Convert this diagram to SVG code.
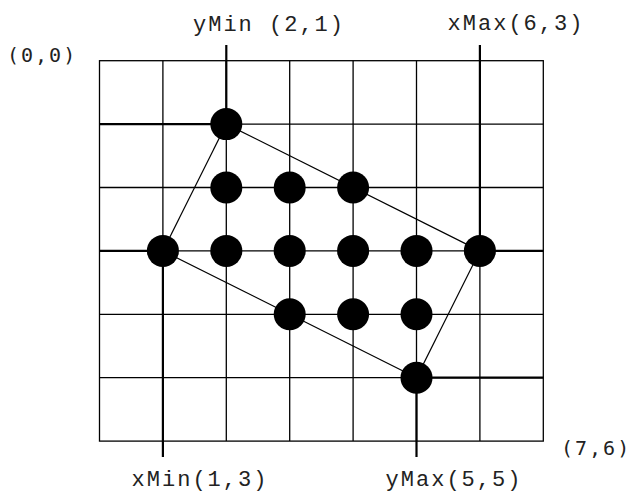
<svg xmlns="http://www.w3.org/2000/svg" width="632" height="494" viewBox="0 0 632 494">
  <style>
    .grid { stroke: #000; stroke-width: 1.3; fill: none; }
    .thick { stroke: #000; stroke-width: 2.2; fill: none; }
    .edge { stroke: #000; stroke-width: 1.2; fill: none; }
    .dot { fill: #000; }
    .lbl { font-family: "Liberation Mono", "Courier New", monospace; font-size: 22px; letter-spacing: 2px; fill: #222; }
    .corner { font-family: "DejaVu Sans Mono", monospace; font-size: 20px; letter-spacing: 2px; fill: #222; }
  </style>
  <rect x="0" y="0" width="632" height="494" fill="#fff"/>
  <g id="grid" class="grid">
    <rect x="99.5" y="60.7" width="443.8" height="380.4"/>
    <line x1="162.9" y1="60.7" x2="162.9" y2="441.1"/>
    <line x1="226.3" y1="60.7" x2="226.3" y2="441.1"/>
    <line x1="289.7" y1="60.7" x2="289.7" y2="441.1"/>
    <line x1="353.1" y1="60.7" x2="353.1" y2="441.1"/>
    <line x1="416.5" y1="60.7" x2="416.5" y2="441.1"/>
    <line x1="479.9" y1="60.7" x2="479.9" y2="441.1"/>
    <line x1="99.5" y1="124.1" x2="543.3" y2="124.1"/>
    <line x1="99.5" y1="187.5" x2="543.3" y2="187.5"/>
    <line x1="99.5" y1="250.9" x2="543.3" y2="250.9"/>
    <line x1="99.5" y1="314.3" x2="543.3" y2="314.3"/>
    <line x1="99.5" y1="377.7" x2="543.3" y2="377.7"/>
  </g>
  <g id="extremes" class="thick">
    <line x1="226.3" y1="45" x2="226.3" y2="124.1"/>
    <line x1="99.5" y1="124.1" x2="226.3" y2="124.1"/>
    <line x1="479.9" y1="45" x2="479.9" y2="250.9"/>
    <line x1="479.9" y1="250.9" x2="543.3" y2="250.9"/>
    <line x1="162.9" y1="250.9" x2="162.9" y2="457"/>
    <line x1="99.5" y1="250.9" x2="162.9" y2="250.9"/>
    <line x1="416.5" y1="377.7" x2="416.5" y2="457"/>
    <line x1="416.5" y1="377.7" x2="543.3" y2="377.7"/>
  </g>
  <g id="connectors" class="edge">
    <line x1="226.3" y1="124.1" x2="479.9" y2="250.9"/>
    <line x1="479.9" y1="250.9" x2="416.5" y2="377.7"/>
    <line x1="416.5" y1="377.7" x2="162.9" y2="250.9"/>
    <line x1="162.9" y1="250.9" x2="226.3" y2="124.1"/>
  </g>
  <g id="p2_1"><circle class="dot" cx="226.3" cy="124.1" r="16"/></g>
  <g id="p2_2"><circle class="dot" cx="226.3" cy="187.5" r="16"/></g>
  <g id="p3_2"><circle class="dot" cx="289.7" cy="187.5" r="16"/></g>
  <g id="p4_2"><circle class="dot" cx="353.1" cy="187.5" r="16"/></g>
  <g id="p1_3"><circle class="dot" cx="162.9" cy="250.9" r="16"/></g>
  <g id="p2_3"><circle class="dot" cx="226.3" cy="250.9" r="16"/></g>
  <g id="p3_3"><circle class="dot" cx="289.7" cy="250.9" r="16"/></g>
  <g id="p4_3"><circle class="dot" cx="353.1" cy="250.9" r="16"/></g>
  <g id="p5_3"><circle class="dot" cx="416.5" cy="250.9" r="16"/></g>
  <g id="p6_3"><circle class="dot" cx="479.9" cy="250.9" r="16"/></g>
  <g id="p3_4"><circle class="dot" cx="289.7" cy="314.3" r="16"/></g>
  <g id="p4_4"><circle class="dot" cx="353.1" cy="314.3" r="16"/></g>
  <g id="p5_4"><circle class="dot" cx="416.5" cy="314.3" r="16"/></g>
  <g id="p5_5"><circle class="dot" cx="416.5" cy="377.7" r="16"/></g>
  <g id="labels">
    <text class="corner" x="7" y="62">(0,0)</text>
    <text class="corner" x="561" y="455">(7,6)</text>
    <text class="lbl" x="269" y="31" text-anchor="middle">yMin (2,1)</text>
    <text class="lbl" x="516" y="30" text-anchor="middle">xMax(6,3)</text>
    <text class="lbl" x="200" y="486" text-anchor="middle">xMin(1,3)</text>
    <text class="lbl" x="454" y="486" text-anchor="middle">yMax(5,5)</text>
  </g>
</svg>
